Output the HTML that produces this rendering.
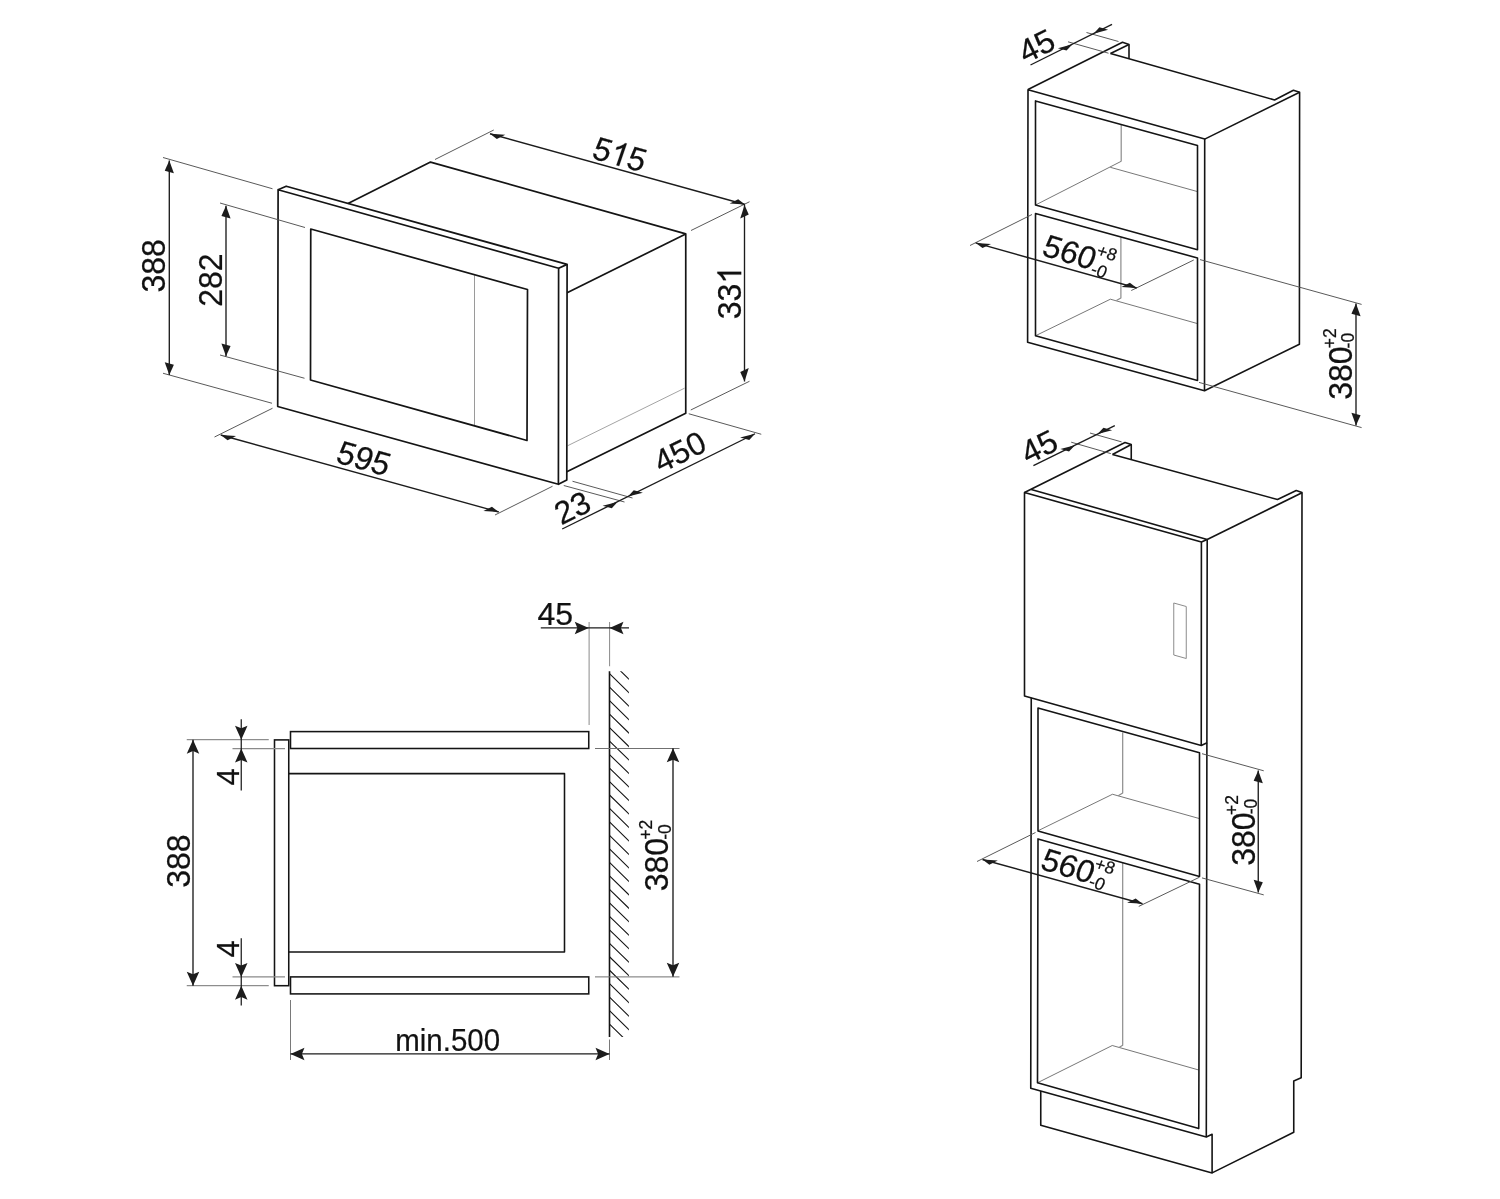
<!DOCTYPE html>
<html lang="en">
<head>
<meta charset="utf-8">
<title>Built-in microwave installation dimensions</title>
<style>
html,body{margin:0;padding:0;background:#fff;}
body{width:1500px;height:1199px;overflow:hidden;font-family:"Liberation Sans",sans-serif;}
svg{display:block;will-change:transform;filter:grayscale(1);}
svg text{font-family:"Liberation Sans",sans-serif;fill:#111;stroke:#111;stroke-width:0.22px;}
</style>
</head>
<body>
<svg width="1500" height="1199" viewBox="0 0 1500 1199">
<rect x="0" y="0" width="1500" height="1199" fill="#ffffff"/>
<line x1="474.5" y1="275.2" x2="474.5" y2="425.6" stroke="#9a9a9a" stroke-width="1" stroke-linecap="butt"/>
<line x1="567.5" y1="445.8" x2="684.5" y2="388.2" stroke="#a4a4a4" stroke-width="1" stroke-linecap="butt"/>
<polygon points="278.1,189.7 558.6,268.2 558.4,484.3 277.7,406.5" fill="none" stroke="#141414" stroke-width="1.7" stroke-linejoin="round"/>
<polyline points="278.1,189.7 286.2,186.2 567.1,264.4 558.6,268.2" fill="none" stroke="#141414" stroke-width="1.7" stroke-linejoin="round"/>
<polyline points="567.1,264.4 566.8,479.9 558.4,484.3" fill="none" stroke="#141414" stroke-width="1.7" stroke-linejoin="round"/>
<polygon points="310.75,229 527.5,289.5 527,440.5 310.5,380" fill="none" stroke="#141414" stroke-width="1.7" stroke-linejoin="round"/>
<polyline points="348,203.4 430.5,162.1 685.75,233.9 685.75,413.2 566.8,471.8" fill="none" stroke="#141414" stroke-width="1.7" stroke-linejoin="round"/>
<line x1="685.75" y1="233.9" x2="567.1" y2="292.8" stroke="#141414" stroke-width="1.7" stroke-linecap="butt"/>
<line x1="163" y1="157.5" x2="272.5" y2="188.75" stroke="#505050" stroke-width="0.95" stroke-linecap="butt"/>
<line x1="163" y1="373.25" x2="272" y2="403.25" stroke="#505050" stroke-width="0.95" stroke-linecap="butt"/>
<line x1="220" y1="203" x2="305" y2="227.5" stroke="#505050" stroke-width="0.95" stroke-linecap="butt"/>
<line x1="220" y1="355" x2="304.5" y2="378.25" stroke="#505050" stroke-width="0.95" stroke-linecap="butt"/>
<line x1="435" y1="159.5" x2="493.75" y2="130" stroke="#505050" stroke-width="0.95" stroke-linecap="butt"/>
<line x1="691" y1="230.5" x2="749.5" y2="201.75" stroke="#505050" stroke-width="0.95" stroke-linecap="butt"/>
<line x1="690.75" y1="410" x2="749.5" y2="381.25" stroke="#505050" stroke-width="0.95" stroke-linecap="butt"/>
<line x1="272.5" y1="408.25" x2="214.5" y2="437" stroke="#505050" stroke-width="0.95" stroke-linecap="butt"/>
<line x1="552.5" y1="486.25" x2="495" y2="515" stroke="#505050" stroke-width="0.95" stroke-linecap="butt"/>
<line x1="688.75" y1="413.75" x2="761.25" y2="434.25" stroke="#505050" stroke-width="0.95" stroke-linecap="butt"/>
<line x1="563.75" y1="485.5" x2="624.5" y2="502" stroke="#505050" stroke-width="0.95" stroke-linecap="butt"/>
<line x1="572.5" y1="481.25" x2="632.5" y2="498" stroke="#505050" stroke-width="0.95" stroke-linecap="butt"/>
<line x1="169.3" y1="160.4" x2="169.3" y2="375" stroke="#1c1c1c" stroke-width="1.35" stroke-linecap="butt"/>
<polygon points="169.3,160.4 173.88,173.17 164.72,170.63" fill="#1c1c1c"/>
<polygon points="169.3,375 173.88,364.77 164.72,362.23" fill="#1c1c1c"/>
<line x1="226" y1="205.8" x2="226" y2="356.3" stroke="#1c1c1c" stroke-width="1.35" stroke-linecap="butt"/>
<polygon points="226,205.8 230.58,218.57 221.42,216.03" fill="#1c1c1c"/>
<polygon points="226,356.3 230.58,346.07 221.42,343.53" fill="#1c1c1c"/>
<line x1="490" y1="133.75" x2="745" y2="204.5" stroke="#1c1c1c" stroke-width="1.35" stroke-linecap="butt"/>
<polygon points="490,133.75 505.34,134.72 496.82,138.93" fill="#1c1c1c"/>
<polygon points="745,204.5 738.18,199.32 729.66,203.53" fill="#1c1c1c"/>
<line x1="744.5" y1="205" x2="744.5" y2="381.5" stroke="#1c1c1c" stroke-width="1.35" stroke-linecap="butt"/>
<polygon points="744.5,205 748.76,214.39 740.24,218.61" fill="#1c1c1c"/>
<polygon points="744.5,381.5 748.76,367.89 740.24,372.11" fill="#1c1c1c"/>
<line x1="220.75" y1="435" x2="498.75" y2="512" stroke="#1c1c1c" stroke-width="1.35" stroke-linecap="butt"/>
<polygon points="220.75,435 236.09,435.96 227.58,440.18" fill="#1c1c1c"/>
<polygon points="498.75,512 491.92,506.82 483.41,511.04" fill="#1c1c1c"/>
<line x1="562.2" y1="529" x2="755" y2="433.75" stroke="#1c1c1c" stroke-width="1.35" stroke-linecap="butt"/>
<polygon points="617.5,502 611.77,508.37 602.61,505.82" fill="#1c1c1c"/>
<polygon points="628,496.5 642.89,492.68 633.73,490.13" fill="#1c1c1c"/>
<polygon points="755,433.75 749.27,440.12 740.11,437.57" fill="#1c1c1c"/>
<text transform="matrix(0 -1 1.05 0 165.4 292.6)" font-size="32" text-anchor="start">388</text>
<text transform="matrix(0 -1 1.04 0 222.2 306.8)" font-size="32" text-anchor="start">282</text>
<g transform="matrix(0 -1 1.04 0 741.2 319.3)"><text x="0" y="0" font-size="32">33</text><path transform="translate(35.59 0) scale(0.0156)" d="M763 0H583V-1147Q518 -1085 412.5 -1023Q307 -961 223 -930V-1104Q374 -1175 487 -1276Q600 -1377 647 -1472H763Z" fill="#111" stroke="#111" stroke-width="14.08"/></g>
<g transform="matrix(0.9632 0.2689 -0.3353 0.9739 590.5 158)"><text x="0" y="0" font-size="32">5</text><path transform="translate(17.8 0) scale(0.0156)" d="M763 0H583V-1147Q518 -1085 412.5 -1023Q307 -961 223 -930V-1104Q374 -1175 487 -1276Q600 -1377 647 -1472H763Z" fill="#111" stroke="#111" stroke-width="14.08"/><text x="35.59" y="0" font-size="32">5</text></g>
<text transform="matrix(0.9632 0.2689 -0.3353 0.9739 334.5 462)" font-size="32" text-anchor="start">595</text>
<text transform="matrix(0.8965 -0.4431 0.4431 0.8965 660.8 473.6)" font-size="32" text-anchor="start">450</text>
<text transform="matrix(0.8965 -0.4431 0.4431 0.8965 561.2 525.6)" font-size="32" text-anchor="start">23</text>
<rect x="290.5" y="731.6" width="298.25" height="16.9" fill="none" stroke="#141414" stroke-width="1.55"/>
<rect x="290.5" y="976.9" width="298.25" height="17" fill="none" stroke="#141414" stroke-width="1.55"/>
<rect x="274.5" y="739.9" width="14.25" height="245.8" fill="none" stroke="#141414" stroke-width="1.55"/>
<polyline points="288.75,773.6 564.5,773.6 564.5,951.9 288.75,951.9" fill="none" stroke="#141414" stroke-width="1.55" stroke-linejoin="round"/>
<clipPath id="hc"><rect x="609.5" y="671.25" width="19.4" height="365.75"/></clipPath>
<path d="M609.5 660.2 L629.5 679.7 M609.5 673.68 L629.5 693.18 M609.5 687.16 L629.5 706.66 M609.5 700.64 L629.5 720.14 M609.5 714.12 L629.5 733.62 M609.5 727.6 L629.5 747.1 M609.5 741.08 L629.5 760.58 M609.5 754.56 L629.5 774.06 M609.5 768.04 L629.5 787.54 M609.5 781.52 L629.5 801.02 M609.5 795 L629.5 814.5 M609.5 808.48 L629.5 827.98 M609.5 821.96 L629.5 841.46 M609.5 835.44 L629.5 854.94 M609.5 848.92 L629.5 868.42 M609.5 862.4 L629.5 881.9 M609.5 875.88 L629.5 895.38 M609.5 889.36 L629.5 908.86 M609.5 902.84 L629.5 922.34 M609.5 916.32 L629.5 935.82 M609.5 929.8 L629.5 949.3 M609.5 943.28 L629.5 962.78 M609.5 956.76 L629.5 976.26 M609.5 970.24 L629.5 989.74 M609.5 983.72 L629.5 1003.22 M609.5 997.2 L629.5 1016.7 M609.5 1010.68 L629.5 1030.18 M609.5 1024.16 L629.5 1043.66 M609.5 1037.64 L629.5 1057.14" stroke="#141414" stroke-width="1.1" fill="none" clip-path="url(#hc)"/>
<line x1="609.5" y1="671.25" x2="609.5" y2="1037" stroke="#141414" stroke-width="1.6" stroke-linecap="butt"/>
<line x1="186.75" y1="739.7" x2="268.75" y2="739.7" stroke="#6a6a6a" stroke-width="0.95" stroke-linecap="butt"/>
<line x1="186.75" y1="985.7" x2="268.75" y2="985.7" stroke="#6a6a6a" stroke-width="0.95" stroke-linecap="butt"/>
<line x1="232.5" y1="748.6" x2="285" y2="748.6" stroke="#8a8a8a" stroke-width="1.1" stroke-linecap="butt"/>
<line x1="232.5" y1="976.9" x2="285" y2="976.9" stroke="#8a8a8a" stroke-width="1.1" stroke-linecap="butt"/>
<line x1="589.1" y1="622" x2="589.1" y2="725" stroke="#8a8a8a" stroke-width="1" stroke-linecap="butt"/>
<line x1="609.6" y1="622" x2="609.6" y2="666.25" stroke="#6a6a6a" stroke-width="0.8" stroke-linecap="butt"/>
<line x1="595" y1="748.5" x2="679.5" y2="748.5" stroke="#707070" stroke-width="1" stroke-linecap="butt"/>
<line x1="595" y1="976.9" x2="679.5" y2="976.9" stroke="#707070" stroke-width="1" stroke-linecap="butt"/>
<line x1="290.5" y1="1000" x2="290.5" y2="1060" stroke="#6a6a6a" stroke-width="0.9" stroke-linecap="butt"/>
<line x1="609.5" y1="1039.5" x2="609.5" y2="1060" stroke="#6a6a6a" stroke-width="0.9" stroke-linecap="butt"/>
<line x1="193" y1="739.7" x2="193" y2="985.7" stroke="#1c1c1c" stroke-width="1.35" stroke-linecap="butt"/>
<polygon points="193,739.7 186.75,753.7 193,751.1 199.25,753.7" fill="#1c1c1c"/>
<polygon points="193,985.7 199.25,971.7 193,974.3 186.75,971.7" fill="#1c1c1c"/>
<line x1="241.25" y1="719.25" x2="241.25" y2="790.5" stroke="#1c1c1c" stroke-width="1.25" stroke-linecap="butt"/>
<polygon points="241.25,739.7 247.5,725.7 241.25,728.3 235,725.7" fill="#1c1c1c"/>
<polygon points="241.25,748.6 235,762.6 241.25,760 247.5,762.6" fill="#1c1c1c"/>
<line x1="241.25" y1="938.25" x2="241.25" y2="1005.5" stroke="#1c1c1c" stroke-width="1.25" stroke-linecap="butt"/>
<polygon points="241.25,976.9 247.5,962.9 241.25,965.5 235,962.9" fill="#1c1c1c"/>
<polygon points="241.25,985.7 235,999.7 241.25,997.1 247.5,999.7" fill="#1c1c1c"/>
<line x1="540.8" y1="627.9" x2="629" y2="627.9" stroke="#1c1c1c" stroke-width="1.3" stroke-linecap="butt"/>
<polygon points="588.75,627.9 574.75,621.65 577.35,627.9 574.75,634.15" fill="#1c1c1c"/>
<polygon points="609.5,627.9 623.5,634.15 620.9,627.9 623.5,621.65" fill="#1c1c1c"/>
<line x1="673" y1="748.25" x2="673" y2="976.75" stroke="#1c1c1c" stroke-width="1.35" stroke-linecap="butt"/>
<polygon points="673,748.25 666.75,762.25 673,759.65 679.25,762.25" fill="#1c1c1c"/>
<polygon points="673,976.75 679.25,962.75 673,965.35 666.75,962.75" fill="#1c1c1c"/>
<line x1="290.5" y1="1053.9" x2="609.5" y2="1053.9" stroke="#1c1c1c" stroke-width="1.4" stroke-linecap="butt"/>
<polygon points="290.5,1053.9 304.5,1060.15 301.9,1053.9 304.5,1047.65" fill="#1c1c1c"/>
<polygon points="609.5,1053.9 595.5,1047.65 598.1,1053.9 595.5,1060.15" fill="#1c1c1c"/>
<text transform="matrix(1.035 0 -0 1 537.5 625.4)" font-size="31" text-anchor="start">45</text>
<text transform="matrix(0 -1 1.05 0 190 887.8)" font-size="32" text-anchor="start">388</text>
<text transform="matrix(0 -1 1 0 238.5 785.5)" font-size="31" text-anchor="start">4</text>
<text transform="matrix(0 -1 1 0 238.5 957.5)" font-size="31" text-anchor="start">4</text>
<text transform="matrix(0 -1 1.04 0 667.6 891.3)" font-size="32" text-anchor="start">380</text>
<text transform="matrix(0 -1 1 0 651.5 839.6)" font-size="17.5" text-anchor="start">+2</text>
<text transform="matrix(0 -1 1 0 670.6 839.8)" font-size="17.5" text-anchor="start">-0</text>
<text transform="matrix(0.965 0 -0 1 395.3 1051)" font-size="30.5" text-anchor="start">min.500</text>
<line x1="1035.5" y1="205" x2="1121.2" y2="161.3" stroke="#5e5e5e" stroke-width="0.85" stroke-linecap="butt"/>
<line x1="1110.3" y1="167.3" x2="1197.5" y2="191.6" stroke="#5e5e5e" stroke-width="0.85" stroke-linecap="butt"/>
<line x1="1121.2" y1="125" x2="1121.2" y2="161.6" stroke="#8c8c8c" stroke-width="1.2" stroke-linecap="butt"/>
<line x1="1035.5" y1="335.75" x2="1110.4" y2="299.2" stroke="#5e5e5e" stroke-width="0.85" stroke-linecap="butt"/>
<line x1="1110.4" y1="299.2" x2="1197.5" y2="323.6" stroke="#5e5e5e" stroke-width="0.85" stroke-linecap="butt"/>
<polyline points="1120.9,237.5 1120.9,298 1116.4,300.6" fill="none" stroke="#8c8c8c" stroke-width="1.2" stroke-linejoin="round"/>
<polygon points="1028,89.7 1204.7,139.1 1204.5,390.7 1027.6,342.2" fill="none" stroke="#141414" stroke-width="1.6" stroke-linejoin="round"/>
<polygon points="1035.5,100.9 1197.5,145.5 1197.5,249.7 1035.5,205.1" fill="none" stroke="#141414" stroke-width="1.6" stroke-linejoin="round"/>
<polygon points="1035.5,213.5 1197.5,258 1197.5,380.5 1035.5,335.75" fill="none" stroke="#141414" stroke-width="1.6" stroke-linejoin="round"/>
<polyline points="1028,89.5 1122.5,42.2 1129,44.5 1129,58.7" fill="none" stroke="#141414" stroke-width="1.6" stroke-linejoin="round"/>
<line x1="1110.5" y1="53.5" x2="1129" y2="44.5" stroke="#141414" stroke-width="1.6" stroke-linecap="butt"/>
<polyline points="1110.5,53.6 1274.6,100 1293.4,90.3 1299.6,92.3 1299.4,344.2 1204.5,390.7" fill="none" stroke="#141414" stroke-width="1.6" stroke-linejoin="round"/>
<line x1="1204.7" y1="139.1" x2="1299.6" y2="92.3" stroke="#141414" stroke-width="1.6" stroke-linecap="butt"/>
<line x1="1068" y1="41.8" x2="1108.5" y2="53.2" stroke="#505050" stroke-width="0.95" stroke-linecap="butt"/>
<line x1="1086.5" y1="32.5" x2="1118.5" y2="41.5" stroke="#505050" stroke-width="0.95" stroke-linecap="butt"/>
<line x1="1032" y1="214.5" x2="970" y2="245.5" stroke="#505050" stroke-width="0.95" stroke-linecap="butt"/>
<line x1="1193.75" y1="260" x2="1131.25" y2="290.5" stroke="#505050" stroke-width="0.95" stroke-linecap="butt"/>
<line x1="1200" y1="259.6" x2="1361.6" y2="304.4" stroke="#505050" stroke-width="0.95" stroke-linecap="butt"/>
<line x1="1199" y1="382.4" x2="1361.6" y2="427.6" stroke="#505050" stroke-width="0.95" stroke-linecap="butt"/>
<line x1="1030.5" y1="65" x2="1112" y2="24.3" stroke="#1c1c1c" stroke-width="1.35" stroke-linecap="butt"/>
<polygon points="1072.5,44.2 1066.55,50.55 1057.88,48.13" fill="#1c1c1c"/>
<polygon points="1093.5,33.7 1108.12,29.77 1099.45,27.35" fill="#1c1c1c"/>
<line x1="975.7" y1="242.9" x2="1136.7" y2="288" stroke="#1c1c1c" stroke-width="1.35" stroke-linecap="butt"/>
<polygon points="975.7,242.9 991.03,243.89 982.52,248.11" fill="#1c1c1c"/>
<polygon points="1136.7,288 1129.88,282.79 1121.37,287.01" fill="#1c1c1c"/>
<line x1="1356" y1="303.6" x2="1356" y2="425.6" stroke="#1c1c1c" stroke-width="1.35" stroke-linecap="butt"/>
<polygon points="1356,303.6 1360.58,316.37 1351.42,313.83" fill="#1c1c1c"/>
<polygon points="1356,425.6 1360.58,415.37 1351.42,412.83" fill="#1c1c1c"/>
<text transform="matrix(0.8949 -0.4462 0.4462 0.8949 1025.4 64)" font-size="32.5" text-anchor="start">45</text>
<text transform="matrix(0.9588 0.284 -0.342 0.9397 1040.5 255)" font-size="32" text-anchor="start">560</text>
<text transform="matrix(0.9588 0.284 -0.342 0.9397 1095.5 255.5)" font-size="17.5" text-anchor="start">+8</text>
<text transform="matrix(0.9588 0.284 -0.3746 0.9272 1089.5 274)" font-size="17.5" text-anchor="start">-0</text>
<text transform="matrix(0 -1 1.04 0 1351.6 399.7)" font-size="32" text-anchor="start">380</text>
<text transform="matrix(0 -1 1 0 1335.6 348.3)" font-size="17.5" text-anchor="start">+2</text>
<text transform="matrix(0 -1 1 0 1354.2 348.4)" font-size="17.5" text-anchor="start">-0</text>
<line x1="1038" y1="830.75" x2="1112.5" y2="794.25" stroke="#5e5e5e" stroke-width="0.85" stroke-linecap="butt"/>
<line x1="1112.5" y1="794.25" x2="1199.5" y2="818.6" stroke="#5e5e5e" stroke-width="0.85" stroke-linecap="butt"/>
<polyline points="1122.7,732.5 1122.7,793 1118.25,795.75" fill="none" stroke="#8c8c8c" stroke-width="1.2" stroke-linejoin="round"/>
<line x1="1037.5" y1="1082.75" x2="1112.25" y2="1045.5" stroke="#5e5e5e" stroke-width="0.85" stroke-linecap="butt"/>
<line x1="1112.25" y1="1045.5" x2="1198.75" y2="1070" stroke="#5e5e5e" stroke-width="0.85" stroke-linecap="butt"/>
<polyline points="1122.7,862.5 1122.7,1045.25 1119,1047.5" fill="none" stroke="#8c8c8c" stroke-width="1.2" stroke-linejoin="round"/>
<polygon points="1173.75,603 1186.25,606.5 1186.25,658.5 1173.75,655" fill="none" stroke="#8c8c8c" stroke-width="1" stroke-linejoin="round"/>
<polygon points="1024.5,492.6 1201.4,542 1201.25,745.4 1024.5,696.1" fill="none" stroke="#141414" stroke-width="1.6" stroke-linejoin="round"/>
<polyline points="1031.25,489.4 1207.2,539.5 1201.4,542" fill="none" stroke="#141414" stroke-width="1.6" stroke-linejoin="round"/>
<polyline points="1201.25,745.4 1207.1,742.8" fill="none" stroke="#141414" stroke-width="1.6" stroke-linejoin="round"/>
<polyline points="1024.5,492.5 1125,442.5 1131.25,444.5 1131.25,459.5" fill="none" stroke="#141414" stroke-width="1.6" stroke-linejoin="round"/>
<line x1="1112.5" y1="454.5" x2="1131.25" y2="444.5" stroke="#141414" stroke-width="1.6" stroke-linecap="butt"/>
<polyline points="1112.5,454.5 1277.5,499.5 1296.25,490.5 1302,492.5 1301.2,1077.75 1293.75,1080.9 1293.75,1132.3 1212.1,1172.9" fill="none" stroke="#141414" stroke-width="1.6" stroke-linejoin="round"/>
<line x1="1207.2" y1="539.5" x2="1302" y2="492.7" stroke="#141414" stroke-width="1.6" stroke-linecap="butt"/>
<polyline points="1031.25,697.8 1030.75,1088.25 1206.3,1136.9 1207.2,539.5" fill="none" stroke="#141414" stroke-width="1.6" stroke-linejoin="round"/>
<polygon points="1038,708 1199.5,752.7 1199.5,876.4 1038,830.9" fill="none" stroke="#141414" stroke-width="1.6" stroke-linejoin="round"/>
<polygon points="1038,838.9 1199.5,884.3 1198.75,1128.6 1037.5,1082.75" fill="none" stroke="#141414" stroke-width="1.6" stroke-linejoin="round"/>
<polyline points="1040.75,1091 1040.75,1125.25 1212.1,1172.9 1212.1,1134.2 1206.3,1136.9" fill="none" stroke="#141414" stroke-width="1.6" stroke-linejoin="round"/>
<line x1="1071.2" y1="442.2" x2="1110.8" y2="453.6" stroke="#505050" stroke-width="0.95" stroke-linecap="butt"/>
<line x1="1090" y1="433" x2="1121.6" y2="441.9" stroke="#505050" stroke-width="0.95" stroke-linecap="butt"/>
<line x1="1035.5" y1="832.5" x2="977" y2="861.5" stroke="#505050" stroke-width="0.95" stroke-linecap="butt"/>
<line x1="1199.3" y1="877.3" x2="1138.75" y2="906.4" stroke="#505050" stroke-width="0.95" stroke-linecap="butt"/>
<line x1="1202" y1="753.7" x2="1263.75" y2="770.8" stroke="#505050" stroke-width="0.95" stroke-linecap="butt"/>
<line x1="1202" y1="877.9" x2="1263.75" y2="894.9" stroke="#505050" stroke-width="0.95" stroke-linecap="butt"/>
<line x1="1033.4" y1="465.7" x2="1114.8" y2="425.6" stroke="#1c1c1c" stroke-width="1.35" stroke-linecap="butt"/>
<polygon points="1075,445.2 1069.02,451.49 1060.35,449.07" fill="#1c1c1c"/>
<polygon points="1097.5,434.1 1112.15,430.23 1103.48,427.81" fill="#1c1c1c"/>
<line x1="982.5" y1="859.5" x2="1142.5" y2="903.75" stroke="#1c1c1c" stroke-width="1.35" stroke-linecap="butt"/>
<polygon points="982.5,859.5 997.84,860.46 989.33,864.67" fill="#1c1c1c"/>
<polygon points="1142.5,903.75 1135.67,898.58 1127.16,902.79" fill="#1c1c1c"/>
<line x1="1258.25" y1="770.5" x2="1258.25" y2="892.6" stroke="#1c1c1c" stroke-width="1.35" stroke-linecap="butt"/>
<polygon points="1258.25,770.5 1262.83,783.27 1253.67,780.73" fill="#1c1c1c"/>
<polygon points="1258.25,892.6 1262.83,882.37 1253.67,879.83" fill="#1c1c1c"/>
<text transform="matrix(0.8949 -0.4462 0.4462 0.8949 1028.1 464.8)" font-size="32.5" text-anchor="start">45</text>
<text transform="matrix(0.9588 0.284 -0.342 0.9397 1039 868.7)" font-size="32" text-anchor="start">560</text>
<text transform="matrix(0.9588 0.284 -0.342 0.9397 1093.5 868.8)" font-size="17.5" text-anchor="start">+8</text>
<text transform="matrix(0.9588 0.284 -0.3746 0.9272 1087.5 886.3)" font-size="17.5" text-anchor="start">-0</text>
<text transform="matrix(0 -1 1.04 0 1254.6 865.8)" font-size="32" text-anchor="start">380</text>
<text transform="matrix(0 -1 1 0 1238 815)" font-size="17.5" text-anchor="start">+2</text>
<text transform="matrix(0 -1 1 0 1257.2 814.3)" font-size="17.5" text-anchor="start">-0</text>
</svg>
</body>
</html>
